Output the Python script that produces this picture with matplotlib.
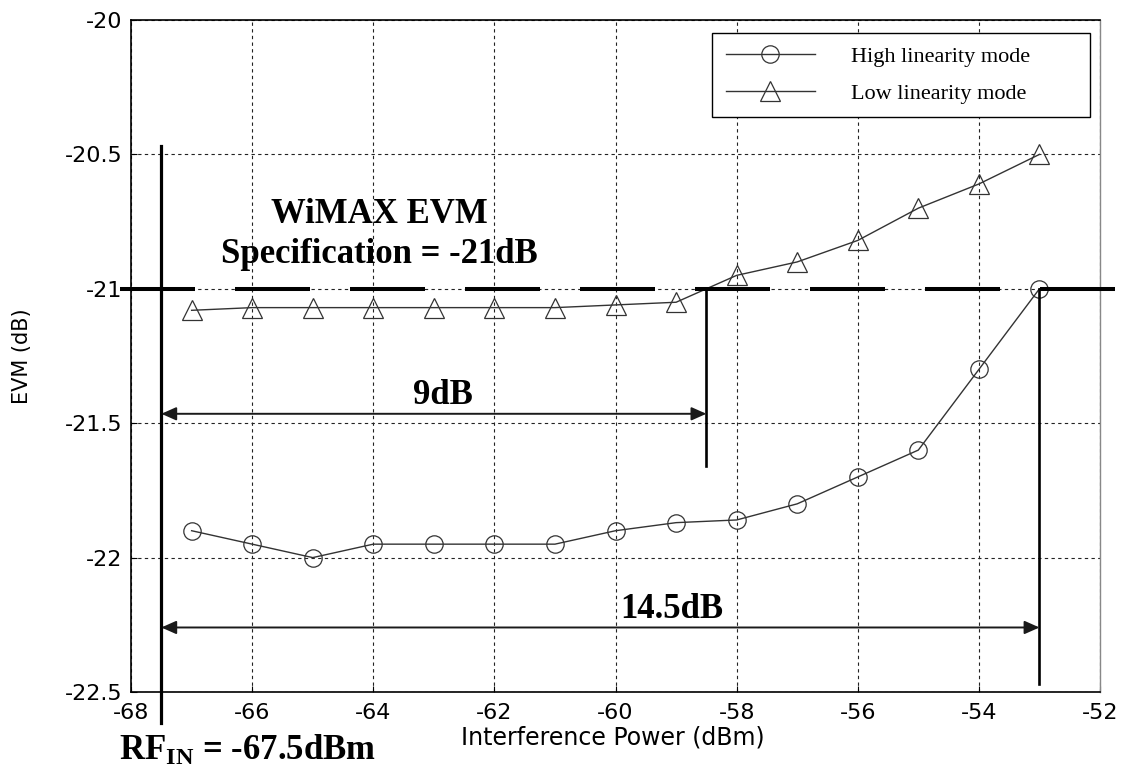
import matplotlib
matplotlib.use("Agg")
import matplotlib.pyplot as plt

# Interference power sweep (dBm) and measured EVM (dB) for both LNA modes
x_power = [-67, -66, -65, -64, -63, -62, -61, -60, -59, -58, -57, -56, -55, -54, -53]
evm_high = [-21.90, -21.95, -22.00, -21.95, -21.95, -21.95, -21.95, -21.90,
            -21.87, -21.86, -21.80, -21.70, -21.60, -21.30, -21.00]
evm_low = [-21.08, -21.07, -21.07, -21.07, -21.07, -21.07, -21.07, -21.06,
           -21.05, -20.95, -20.90, -20.82, -20.70, -20.61, -20.50]
series_labels = ["High linearity mode", "Low linearity mode"]

x_ticks = [-68, -66, -64, -62, -60, -58, -56, -54, -52]
x_tick_labels = ["-68", "-66", "-64", "-62", "-60", "-58", "-56", "-54", "-52"]
y_ticks = [-22.5, -22, -21.5, -21, -20.5, -20]
y_tick_labels = ["-22.5", "-22", "-21.5", "-21", "-20.5", "-20"]

evm_spec = -21.0          # WiMAX EVM specification (dB)
rf_in = -67.5             # desired signal level (dBm)
margin_low = 9.0          # interference margin, low linearity mode (dB)
margin_high = 14.5        # interference margin, high linearity mode (dB)

serif = "Liberation Serif"
sans = "DejaVu Sans"
plt.rcParams["mathtext.fontset"] = "custom"
plt.rcParams["mathtext.rm"] = "Liberation Serif:bold"
plt.rcParams["mathtext.bf"] = "Liberation Serif:bold"
plt.rcParams["mathtext.it"] = "Liberation Serif:bold"

fig = plt.figure(figsize=(11.22, 7.67), dpi=100)
ax = fig.add_axes([0.1168, 0.0978, 0.8636, 0.8761])

ax.set_xlim(-68, -52)
ax.set_ylim(-22.5, -20)
ax.set_xticks(x_ticks)
ax.set_xticklabels(x_tick_labels, fontfamily=sans, fontsize=16)
ax.set_yticks(y_ticks)
ax.set_yticklabels(y_tick_labels, fontfamily=sans, fontsize=16)
ax.tick_params(axis="both", direction="in", length=4, width=0.8, color="black")
ax.tick_params(axis="x", pad=8)
ax.tick_params(axis="y", pad=6)

ax.grid(True, color="#222222", linestyle=(0, (3, 3)), linewidth=0.8)
ax.set_axisbelow(True)
for side in ("left", "bottom", "top"):
    ax.spines[side].set_linewidth(1.2)
    ax.spines[side].set_color("black")
ax.spines["right"].set_color("#888888")
ax.spines["right"].set_linewidth(1.0)

ax.set_xlabel("Interference Power (dBm)", fontfamily=sans, fontsize=17)
ax.xaxis.set_label_coords(0.497, -0.05)
ax.set_ylabel("EVM (dB)", fontfamily=sans, fontsize=15)
ax.yaxis.set_label_coords(-0.102, 0.5)

line_color = "#333333"
h_line, = ax.plot(x_power, evm_high, color=line_color, linewidth=1.0,
                  marker="o", markersize=12.5, markerfacecolor="none",
                  markeredgecolor=line_color, markeredgewidth=0.9, zorder=4)
l_line, = ax.plot(x_power, evm_low, color=line_color, linewidth=1.0,
                  marker="^", markersize=15, markerfacecolor="none",
                  markeredgecolor=line_color, markeredgewidth=0.9, zorder=4)

# EVM specification line, extending past both spines
spec_lw = 2.9
ax.plot([-68.18, -51.72], [evm_spec, evm_spec], color="black", linewidth=spec_lw,
        linestyle=(0, (54 / spec_lw, 28.8 / spec_lw)), dash_capstyle="butt",
        solid_capstyle="butt", clip_on=False, zorder=5)

# RF_IN marker line and the two crossing markers
cross_low = rf_in + margin_low
cross_high = rf_in + margin_high
ax.plot([rf_in, rf_in], [-20.47, -22.615], color="black", linewidth=2.3,
        clip_on=False, zorder=5)
ax.plot([cross_low, cross_low], [evm_spec, -21.66], color="black", linewidth=1.9, zorder=5)
ax.plot([cross_high, cross_high], [evm_spec, -22.47], color="black", linewidth=1.9, zorder=5)

arrow_style = "<|-|>,head_length=0.45,head_width=0.2"
for x_end, y_arr in ((cross_low, -21.465), (cross_high, -22.26)):
    ax.annotate("", xy=(x_end, y_arr), xytext=(rf_in, y_arr),
                arrowprops=dict(arrowstyle=arrow_style, color="#1a1a1a", lw=1.4,
                                mutation_scale=20, shrinkA=0, shrinkB=0),
                zorder=5)

bold_kw = dict(fontfamily=serif, fontweight="bold", fontsize=25, color="black")
ax.text(-63.9, -20.755, "WiMAX EVM", ha="center", va="baseline", **bold_kw)
ax.text(-63.9, -20.905, "Specification = -21dB", ha="center", va="baseline", **bold_kw)
ax.text(-62.85, -21.428, f"{margin_low:g}dB", ha="center", va="baseline", **bold_kw)
ax.text(-59.07, -22.224, f"{margin_high:g}dB", ha="center", va="baseline", **bold_kw)
ax.text(0.1205, -0.1005, r"$\mathbf{RF_{IN}}$" + f" = {rf_in:g}dBm", transform=ax.transAxes,
        ha="center", va="baseline", **bold_kw)

leg = ax.legend([h_line, l_line], series_labels, loc="upper left",
                bbox_to_anchor=(0.6, 0.45, 0.39, 0.531), mode="expand",
                prop={"family": serif, "size": 16}, frameon=True, fancybox=False,
                edgecolor="black", framealpha=1, handlelength=4.0,
                handletextpad=1.65, labelspacing=0.74, borderpad=0.6,
                borderaxespad=0)
leg.get_frame().set_linewidth(1.0)

fig.savefig("out.png", dpi=100)
